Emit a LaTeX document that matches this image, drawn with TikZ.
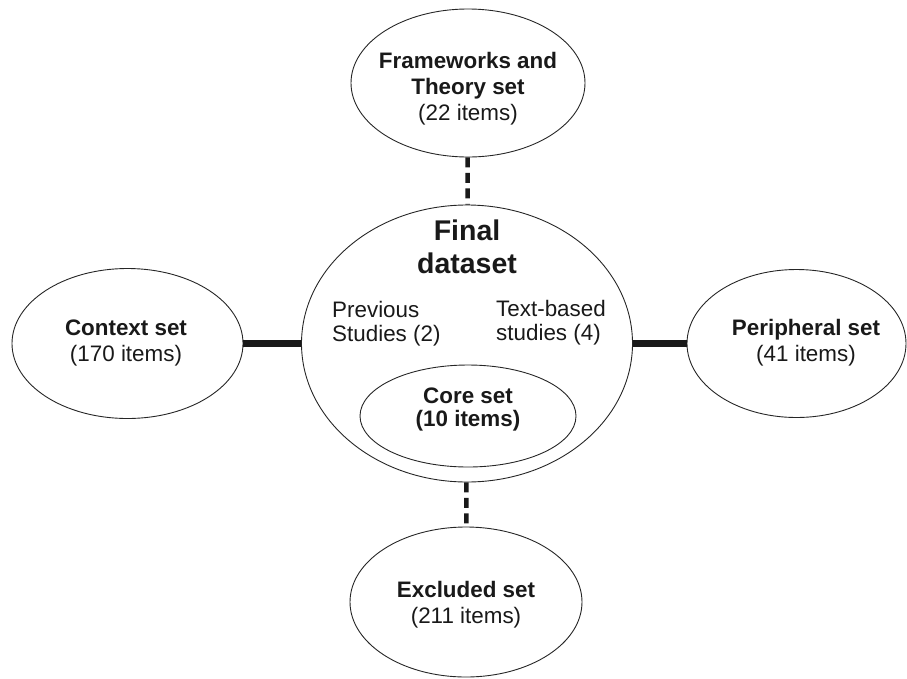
\documentclass[tikz,border=0pt]{standalone}
\usepackage{fontspec}
\setmainfont{Liberation Sans}
\usetikzlibrary{shapes.geometric}
\begin{document}
\begin{tikzpicture}[x=1pt,y=-1pt,
  setell/.style={draw=black!85, line width=0.9pt, ellipse, inner sep=0pt},
  lbl/.style={align=center, font=\fontsize{22.4}{26}\selectfont, inner sep=0pt, text=black!90},
  sidelbl/.style={align=left, anchor=west, font=\fontsize{22.4}{23.5}\selectfont, inner sep=0pt, text=black!90},
  bigtitle/.style={align=center, font=\fontsize{28.5}{33}\selectfont\bfseries, inner sep=0pt, text=black!90},
  corelbl/.style={align=center, font=\fontsize{22.4}{23}\selectfont\bfseries, inner sep=0pt, text=black!90},
  solidlink/.style={line width=7pt, black!90},
  dashlink/.style={line width=4.5pt, black!90, dash pattern=on 10pt off 5.5pt}]
\useasboundingbox (0,0) rectangle (907,678);
% ellipses
\node[setell, minimum width=234pt, minimum height=148pt] (top) at (468,83) {};
\node[setell, minimum width=331pt, minimum height=277pt] (final) at (467,343.5) {};
\node[setell, minimum width=216pt, minimum height=102pt] (core) at (468,416) {};
\node[setell, minimum width=231pt, minimum height=150pt] (ctx) at (127.5,343.5) {};
\node[setell, minimum width=219pt, minimum height=148pt] (per) at (796.5,343.5) {};
\node[setell, minimum width=232pt, minimum height=150pt] (exc) at (466,602) {};
% texts
\node[lbl] (toptxt) at (468,89) {\textbf{Frameworks and}\\\textbf{Theory set}\\(22 items)};
\node[bigtitle] (finaltxt) at (467,246.5) {Final\\dataset};
\node[sidelbl] (prevtxt) at (332,323.5) {Previous\\Studies (2)};
\node[sidelbl] (texttxt) at (496,322.5) {Text-based\\studies (4)};
\node[corelbl] (coretxt) at (468,409) {Core set\\(10 items)};
\node[lbl] (ctxtxt) at (126,343) {\textbf{Context set}\\(170 items)};
\node[lbl] (pertxt) at (806,343) {\textbf{Peripheral set}\\(41 items)};
\node[lbl] (exctxt) at (466,604.5) {\textbf{Excluded set}\\(211 items)};
% connectors
\draw[solidlink] (ctx) -- (final);
\draw[solidlink] (final) -- (per);
\draw[dashlink] (top) -- (final);
\draw[dashlink] (final) -- (exc);
\end{tikzpicture}
\end{document}
